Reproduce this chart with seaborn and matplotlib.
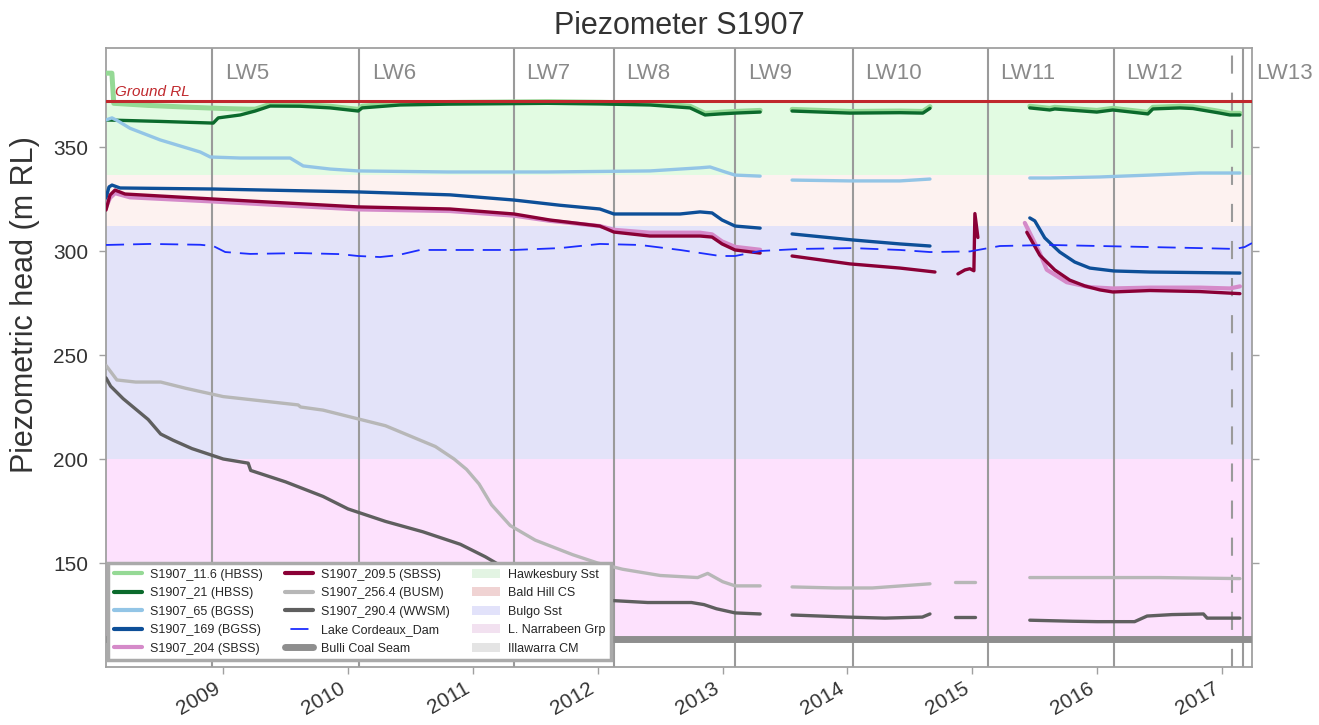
import numpy as np
import pandas as pd
import matplotlib
matplotlib.use("Agg")
import matplotlib.pyplot as plt
import matplotlib.dates as mdates
from matplotlib.lines import Line2D
from matplotlib.patches import Patch
import seaborn as sns
from datetime import datetime, timedelta

nan = np.nan

# ---------------- data (decimal years, m RL) ----------------
s11_6_t = [2008.063, 2008.11, 2008.125, 2008.4, 2008.7, 2009.0, 2009.2, 2009.256, 2009.376, 2009.616,
           2009.857, 2010.081, 2010.113, 2010.417, 2010.8, 2011.218, 2011.6, 2012.018, 2012.419, 2012.739,
           2012.859, 2012.979, 2013.099, 2013.3, nan, 2013.556, 2014.02, 2014.42, 2014.604, 2014.661, nan,
           2015.461, 2015.621, 2015.661, 2015.998, 2016.126, 2016.406, 2016.446, 2016.662, 2016.766,
           2016.982, 2017.062, 2017.142]
s11_6_v = [385.5, 385.5, 371.0, 370.0, 369.2, 368.5, 368.2, 368.2, 370.5, 370.4,
           369.6, 368.1, 369.6, 371.0, 371.4, 371.6, 371.8, 371.5, 371.0, 369.6,
           366.2, 366.7, 367.1, 367.6, nan, 368.1, 367.1, 367.3, 367.1, 369.4, nan,
           369.6, 368.6, 369.1, 367.6, 368.6, 366.7, 369.1, 369.6, 369.3,
           367.1, 366.2, 366.2]

s21_t = [2008.063, 2008.5, 2008.92, 2008.96, 2009.136, 2009.256, 2009.376, 2009.616, 2009.857, 2010.081,
         2010.113, 2010.417, 2010.8, 2011.218, 2011.6, 2012.018, 2012.419, 2012.739, 2012.859, 2012.979,
         2013.099, 2013.3, nan, 2013.556, 2014.02, 2014.42, 2014.604, 2014.661, nan, 2015.461, 2015.621,
         2015.661, 2015.998, 2016.126, 2016.406, 2016.446, 2016.662, 2016.766, 2016.982, 2017.062, 2017.142]
s21_v = [363.0, 362.3, 361.5, 364.0, 365.4, 367.3, 369.7, 369.6, 368.8, 367.3,
         368.8, 370.2, 370.6, 370.8, 371.0, 370.7, 370.2, 368.8, 365.4, 365.9,
         366.3, 366.8, nan, 367.3, 366.3, 366.5, 366.3, 368.6, nan, 368.8, 367.8,
         368.3, 366.8, 367.8, 365.9, 368.3, 368.8, 368.5, 366.3, 365.4, 365.4]

s65_t = [2008.063, 2008.111, 2008.159, 2008.255, 2008.496, 2008.816, 2008.896, 2009.136, 2009.536, 2009.641,
         2009.857, 2010.081, 2010.8, 2011.6, 2012.419, 2012.819, 2012.899, 2013.019, 2013.099, 2013.3, nan,
         2013.556, 2014.02, 2014.42, 2014.661, nan, 2015.461, 2015.621, 2016.022, 2016.422, 2016.822, 2017.142]
s65_v = [363.0, 364.0, 362.5, 359.0, 353.4, 347.6, 345.2, 344.7, 344.7, 340.9,
         339.4, 338.5, 338.0, 338.0, 338.5, 340.0, 340.4, 338.0, 336.5, 336.0, nan,
         334.1, 333.7, 333.7, 334.6, nan, 335.1, 335.1, 335.6, 336.5, 337.5, 337.5]

s169_t = [2008.063, 2008.087, 2008.111, 2008.175, 2008.92, 2010.081, 2010.817, 2011.33, 2011.698, 2012.018,
          2012.131, 2012.659, 2012.819, 2012.915, 2012.995, 2013.099, 2013.3, nan, 2013.556, 2014.044,
          2014.42, 2014.661, nan, 2015.461, 2015.501, 2015.581, 2015.701, 2015.821, 2015.942, 2016.134,
          2016.422, 2017.142]
s169_v = [325.5, 330.8, 331.7, 330.3, 329.8, 328.4, 327.0, 324.5, 322.0, 320.2,
          317.8, 317.8, 318.8, 318.3, 314.9, 312.0, 311.0, nan, 308.2, 305.3,
          303.4, 302.4, nan, 315.9, 314.5, 306.3, 299.5, 294.7, 291.8, 290.4,
          289.9, 289.4]

s204_t = [2008.063, 2008.095, 2008.135, 2008.255, 2008.92, 2010.081, 2010.817, 2011.33, 2011.618, 2012.018,
          2012.131, 2012.419, 2012.819, 2012.915, 2012.995, 2013.099, 2013.3, nan, 2015.421, 2015.541,
          2015.597, 2015.757, 2015.942, 2016.126, 2016.422, 2016.822, 2017.062, 2017.142]
s204_v = [321.0, 325.5, 327.8, 325.8, 323.8, 320.0, 319.2, 317.0, 314.5, 312.0,
          310.2, 308.8, 308.8, 308.0, 304.6, 302.0, 300.6, nan, 313.5, 299.0,
          291.0, 285.0, 282.6, 282.0, 282.4, 282.4, 282.0, 283.0]

s209_5_t = [2008.063, 2008.095, 2008.135, 2008.215, 2008.92, 2010.081, 2010.817, 2011.33, 2011.618, 2012.018,
            2012.131, 2012.419, 2012.819, 2012.915, 2012.995, 2013.099, 2013.3, nan, 2013.556, 2014.02,
            2014.42, 2014.701, nan, 2014.885, 2014.941, 2014.981, 2015.013, 2015.021, 2015.045, nan,
            2015.437, 2015.541, 2015.661, 2015.781, 2015.902, 2016.022, 2016.126, 2016.422, 2016.822, 2017.142]
s209_5_v = [319.7, 326.9, 329.3, 327.4, 325.0, 321.2, 320.2, 317.8, 314.9, 312.0,
            309.1, 307.2, 307.2, 306.7, 303.4, 300.5, 299.0, nan, 297.6, 293.8,
            291.8, 289.9, nan, 289.0, 290.9, 291.5, 290.5, 318.0, 306.5, nan,
            309.0, 298.0, 290.9, 286.0, 283.2, 281.3, 280.3, 281.0, 280.5, 279.5]

s256_4_t = [2008.063, 2008.15, 2008.3, 2008.5, 2008.7, 2009.0, 2009.3, 2009.6, 2009.62, 2009.8,
            2010.0, 2010.3, 2010.5, 2010.7, 2010.85, 2010.95, 2011.05, 2011.15, 2011.3, 2011.5,
            2011.8, 2012.0, 2012.2, 2012.5, 2012.8, 2012.88, 2013.0, 2013.1, 2013.3, nan,
            2013.556, 2013.9, 2014.2, 2014.661, nan, 2014.861, 2015.021, nan, 2015.461, 2016.0,
            2016.5, 2017.142]
s256_4_v = [245, 238, 237, 237, 234, 230, 228, 226, 225, 223.5,
            220.5, 216, 211, 206, 200, 195, 188, 178, 168, 161,
            154, 150, 147, 144, 143, 145, 141, 139, 139, nan,
            138.5, 138, 138, 140, nan, 141, 141, nan, 143, 143,
            143, 142.5]

s290_4_t = [2008.063, 2008.1, 2008.2, 2008.4, 2008.5, 2008.6, 2008.75, 2008.9, 2009.0, 2009.2,
            2009.22, 2009.5, 2009.8, 2010.0, 2010.3, 2010.6, 2010.9, 2011.1, 2011.3, 2011.5,
            2011.7, 2011.9, 2012.1, 2012.4, 2012.75, 2012.85, 2012.95, 2013.1, 2013.3, nan,
            2013.556, 2014.0, 2014.3, 2014.6, 2014.661, nan, 2014.861, 2015.021, nan, 2015.461,
            2015.8, 2016.0, 2016.3, 2016.4, 2016.6, 2016.85, 2016.88, 2017.142]
s290_4_v = [239, 235, 229, 219, 212, 209, 205, 202, 200, 198,
            194.5, 189, 182, 176, 170, 165, 159, 153, 146, 141,
            137, 134, 132, 131, 131, 130, 128, 126, 125.5, nan,
            125, 124, 123.5, 124, 125.5, nan, 124, 124, nan, 122.5,
            122, 121.8, 121.8, 124.5, 125.2, 125.5, 123.5, 123.5]

dam_t = [2008.063, 2008.416, 2008.816, 2008.92, 2009.016, 2009.216, 2009.616, 2009.937, 2010.081, 2010.257,
         2010.4, 2010.577, 2011.0, 2011.33, 2011.698, 2012.018, 2012.339, 2012.659, 2012.979, 2013.099,
         2013.3, 2013.621, 2014.044, 2014.42, 2014.661, 2014.981, 2015.221, 2015.621, 2016.022, 2016.422,
         2016.822, 2017.102, 2017.18, 2017.239]
dam_v = [302.9, 303.4, 303.0, 302.4, 299.5, 298.6, 299.0, 298.5, 297.6, 297.1,
         298.0, 300.5, 300.5, 300.5, 301.4, 303.4, 302.9, 300.5, 297.6, 297.6,
         300.0, 301.0, 301.4, 300.5, 299.5, 299.8, 302.4, 302.9, 302.4, 301.9,
         301.4, 301.0, 301.9, 303.8]

ground_rl = 372.0
coal_seam = 113.5

# geological units: (name, bottom, top)
unit_names = ["Hawkesbury Sst", "Bald Hill CS", "Bulgo Sst", "L. Narrabeen Grp", "Illawarra CM"]
unit_bottom = [336.5, 312.0, 200.0, 114.0, 112.5]
unit_top = [372.0, 336.5, 312.0, 200.0, 114.0]

lw_labels = ["LW5", "LW6", "LW7", "LW8", "LW9", "LW10", "LW11", "LW12", "LW13"]
lw_start = [2008.912, 2010.089, 2011.33, 2012.13, 2013.10, 2014.044, 2015.125, 2016.134, 2017.17]
survey_date = 2017.08

x_range = [2008.063, 2017.239]
y_range = [100.0, 397.6]

# ---------------- styling ----------------
def yr(y):
    y0 = int(y)
    base = datetime(y0, 1, 1)
    ndays = (datetime(y0 + 1, 1, 1) - base).days
    return base + timedelta(days=(y - y0) * ndays)

series = [
    ("S1907_11.6 (HBSS)", s11_6_t, s11_6_v, "#95d995", 3.6),
    ("S1907_21 (HBSS)", s21_t, s21_v, "#0b6a2c", 2.4),
    ("S1907_65 (BGSS)", s65_t, s65_v, "#93c5e6", 2.4),
    ("S1907_169 (BGSS)", s169_t, s169_v, "#0d4f98", 2.4),
    ("S1907_204 (SBSS)", s204_t, s204_v, "#d58ac9", 3.0),
    ("S1907_209.5 (SBSS)", s209_5_t, s209_5_v, "#8a0036", 2.4),
    ("S1907_256.4 (BUSM)", s256_4_t, s256_4_v, "#b7b7b7", 2.4),
    ("S1907_290.4 (WWSM)", s290_4_t, s290_4_v, "#5f5f5f", 2.4),
]
band_colors = ["#e2fbe2", "#fdf2f0", "#e3e3f9", "#fde1fd", "#e6e6e6"]
legend_patch_colors = ["#e3f4e3", "#f0d3d3", "#e2e2fa", "#f2e1f0", "#e4e4e4"]

sns.set_style("white")
plt.rcParams["font.family"] = ["Liberation Sans", "DejaVu Sans"]

fig = plt.figure(figsize=(13.19, 7.25), dpi=100)
ax = fig.add_axes([106 / 1319, 1 - 667 / 725, (1252 - 106) / 1319, (667 - 48) / 725])

for c, b, t in zip(band_colors, unit_bottom, unit_top):
    ax.axhspan(b, t, color=c, lw=0, zorder=0)

for d in lw_start:
    ax.axvline(yr(d), color="#9a9a9a", lw=1.5, zorder=1)
ax.axvline(yr(survey_date), color="#9a9a9a", lw=1.5, ls=(0, (8.7, 9.1)), zorder=1)

for lab, d in zip(lw_labels, lw_start):
    ax.annotate(lab, xy=(yr(d), 385.5), xytext=(9, 0), textcoords="offset points",
                va="center", ha="left", fontsize=16, color="#8a8a8a", annotation_clip=False)


def to_df(t, v):
    t = np.asarray(t, float)
    v = np.asarray(v, float)
    seg = np.cumsum(np.isnan(t))
    ok = ~np.isnan(t)
    return pd.DataFrame({"date": [yr(x) for x in t[ok]], "value": v[ok], "seg": seg[ok]})


for z, (lab, t, v, col, lw) in enumerate(series):
    df = to_df(t, v)
    sns.lineplot(data=df, x="date", y="value", units="seg", estimator=None, sort=False,
                 color=col, lw=lw, ax=ax, legend=False, zorder=3 + z * 0.1)

dfd = to_df(dam_t, dam_v)
sns.lineplot(data=dfd, x="date", y="value", estimator=None, sort=False, color="#1c2dff",
             lw=1.3, ax=ax, legend=False, zorder=4)
ax.lines[-1].set_linestyle((0, (10, 5)))

ax.axhline(ground_rl, color="#c0282d", lw=2.2, zorder=5)
ax.text(yr(2008.135), ground_rl + 1.2, "Ground RL", color="#c0282d", fontsize=11,
        fontstyle="italic", va="bottom", ha="left")
ax.axhline(coal_seam, color="#8e8e8e", lw=5, zorder=5)

ax.set_xlim(yr(x_range[0]), yr(x_range[1]))
ax.set_ylim(*y_range)
ax.xaxis.set_major_locator(mdates.YearLocator())
ax.xaxis.set_major_formatter(mdates.DateFormatter("%Y"))
ax.set_yticks([150, 200, 250, 300, 350])
ax.set_xlabel("")
ax.set_ylabel("Piezometric head (m RL)", fontsize=22, color="#333333")
ax.yaxis.set_label_coords(-0.058, 0.585)
ax.set_title("Piezometer S1907", fontsize=22, color="#333333", pad=10)

for sp in ax.spines.values():
    sp.set_color("#a0a0a0")
    sp.set_linewidth(1.3)
ax.tick_params(axis="both", direction="out", length=5, width=1, color="#a0a0a0",
               labelsize=15, labelcolor="#333333", bottom=True, left=True)
ax.tick_params(axis="y", right=True, labelright=False, pad=8)
for lbl in ax.get_xticklabels():
    lbl.set_rotation(30)
    lbl.set_ha("right")

handles = [Line2D([], [], color=s[3], lw=3) for s in series]
labels = [s[0] for s in series]
handles.append(Line2D([], [], color="#1c2dff", lw=1.3, ls=(12, (10, 5))))
labels.append("Lake Cordeaux_Dam")
handles.append(Line2D([], [], color="#8e8e8e", lw=5))
labels.append("Bulli Coal Seam")
for n, c in zip(unit_names, legend_patch_colors):
    handles.append(Patch(facecolor=c, edgecolor="none"))
    labels.append(n)

leg = ax.legend(handles, labels, ncol=3, loc="lower left", bbox_to_anchor=(0.002, 0.011),
                borderaxespad=0, fontsize=9, frameon=True, fancybox=False, framealpha=1,
                edgecolor="#aaaaaa", labelspacing=0.52, handlelength=2.25, handletextpad=0.65,
                columnspacing=1.75, borderpad=0.45)
leg.get_frame().set_linewidth(2.5)
leg.set_zorder(10)

fig.savefig("out.png", dpi=100)
